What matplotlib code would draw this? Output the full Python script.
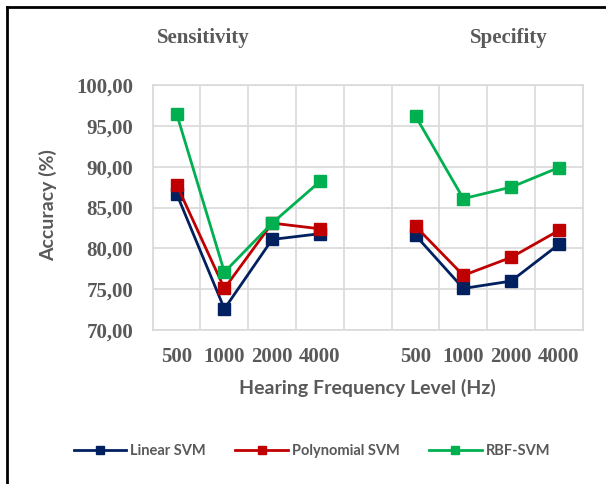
import numpy as np
import matplotlib
matplotlib.use("Agg")
import matplotlib.pyplot as plt
from matplotlib.lines import Line2D

# categories: two blocks (Sensitivity / Specifity) separated by an empty slot
freqs = ["500", "1000", "2000", "4000", "", "500", "1000", "2000", "4000"]
linear_svm = [86.7, 72.6, 81.1, 81.8, np.nan, 81.6, 75.1, 76.0, 80.5]
poly_svm = [87.8, 75.1, 83.1, 82.4, np.nan, 82.7, 76.7, 78.9, 82.2]
rbf_svm = [96.5, 77.1, 83.1, 88.2, np.nan, 96.2, 86.1, 87.5, 89.9]
yticks = [70, 75, 80, 85, 90, 95, 100]

GRAY = "#595959"
GRID = "#D9D9D9"
SERIF = ["Liberation Serif", "DejaVu Serif"]
SANS = ["Lato", "DejaVu Sans"]

fig = plt.figure(figsize=(6.06, 4.84), dpi=100)
ax = fig.add_axes([0.252, 0.318, 0.7097, 0.5062])

x = np.arange(len(freqs))
series = [
    ("Linear SVM", linear_svm, "#002060"),
    ("Polynomial SVM", poly_svm, "#C00000"),
    ("RBF-SVM", rbf_svm, "#00B050"),
]
for name, vals, col in series:
    ax.plot(x, vals, color=col, lw=2, marker="s", ms=8, label=name)

ax.set_xlim(-0.5, len(freqs) - 0.5)
ax.set_ylim(70, 100)
ax.set_yticks(yticks)
ax.set_yticklabels([f"{v:.2f}".replace(".", ",") for v in yticks])
ax.set_xticks(x)
ax.set_xticklabels(freqs)
ax.set_xticks(np.arange(-0.5, len(freqs), 1.0), minor=True)

ax.grid(False)
ax.grid(True, which="minor", axis="x", color=GRID, lw=1.2)
ax.grid(True, which="major", axis="y", color=GRID, lw=1.2)
ax.set_axisbelow(True)
for s in ax.spines.values():
    s.set_color(GRID)
    s.set_linewidth(1.2)
ax.tick_params(which="both", length=0)
ax.tick_params(axis="y", pad=14)
ax.tick_params(axis="x", pad=12)
for lab in ax.get_xticklabels() + ax.get_yticklabels():
    lab.set_family(SERIF)
    lab.set_fontweight("bold")
    lab.set_fontsize(15)
    lab.set_color(GRAY)

fig.text(203 / 606, 1 - 38 / 484, "Sensitivity", family=SERIF, fontweight="bold",
         fontsize=15, color=GRAY, ha="center", va="center")
fig.text(509 / 606, 1 - 38 / 484, "Specifity", family=SERIF, fontweight="bold",
         fontsize=15, color=GRAY, ha="center", va="center")

fig.text(48 / 606, 1 - 205 / 484, "Accuracy (%)", family=SANS, fontweight="bold",
         fontsize=14, color=GRAY, rotation=90, ha="center", va="center")
fig.text(367 / 606, 1 - 388 / 484, "Hearing Frequency Level (Hz)", family=SANS,
         fontweight="bold", fontsize=14, color=GRAY, ha="center", va="center")

leg = fig.legend(loc="center", bbox_to_anchor=(312 / 606, 1 - 451 / 484), ncol=3,
                 frameon=False, handlelength=3.6, handletextpad=0.3,
                 columnspacing=2.0, markerscale=0.75,
                 prop={"family": SANS, "weight": "bold", "size": 10.5})
for t in leg.get_texts():
    t.set_color(GRAY)

# outer frame (only top and left edges visible in the reference)
fig.add_artist(Line2D([7 / 606, 1], [1 - 7 / 484, 1 - 7 / 484], color="black", lw=2,
                      transform=fig.transFigure))
fig.add_artist(Line2D([7 / 606, 7 / 606], [0, 1 - 7 / 484], color="black", lw=2,
                      transform=fig.transFigure))

fig.savefig("out.png", dpi=100)
